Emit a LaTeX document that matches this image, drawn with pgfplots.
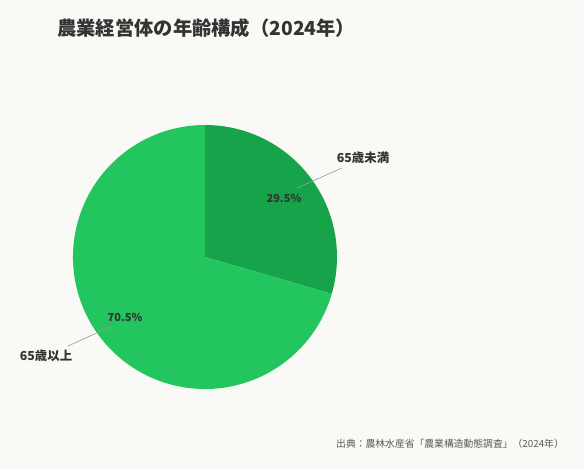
\documentclass[border=0pt]{standalone}
\usepackage{pgfplots}
\pgfplotsset{compat=1.18}
\usepackage{fontspec}
\setmainfont{Noto Sans CJK JP}
\definecolor{bg}{HTML}{F9F9F5}
\definecolor{darkgreen}{HTML}{16A34A}
\definecolor{lightgreen}{HTML}{22C55E}
\definecolor{txt}{HTML}{333333}
\definecolor{src}{HTML}{5A5A5A}
\definecolor{leader}{HTML}{999999}

% shares (percent), clockwise from 12 o'clock
\def\valA{29.5}% 65歳未満
\def\valB{70.5}% 65歳以上
\def\R{132}

\begin{document}
\begin{tikzpicture}
\begin{axis}[
    x=1pt, y=1pt,
    xmin=-205, xmax=379,
    ymin=-212, ymax=257,
    hide axis,
    clip=false,
]
% background
\fill[bg] (axis cs:-205,-212) rectangle (axis cs:379,257);

% slices
\pgfmathsetmacro{\aA}{90}
\pgfmathsetmacro{\aB}{90-\valA*3.6}
\pgfmathsetmacro{\aC}{\aB-\valB*3.6}
\fill[darkgreen] (axis cs:0,0) -- (axis cs:{\R*cos(\aA)},{\R*sin(\aA)})
    arc[start angle=\aA, end angle=\aB, radius=\R pt] -- cycle;
\fill[lightgreen] (axis cs:0,0) -- (axis cs:{\R*cos(\aB)},{\R*sin(\aB)})
    arc[start angle=\aB, end angle=\aC, radius=\R pt] -- cycle;

% leader lines
\draw[leader, line width=0.6pt] (axis cs:92,69) -- (axis cs:137,89);
\draw[leader, line width=0.6pt] (axis cs:-93,-69) -- (axis cs:-137,-89);

% labels
\node[txt, font=\bfseries\fontsize{11}{13}\selectfont] at (axis cs:79,59) {\valA\%};
\node[txt, font=\bfseries\fontsize{11}{13}\selectfont] at (axis cs:-80,-60) {\valB\%};
\node[txt, font=\bfseries\fontsize{12.4}{14}\selectfont] at (axis cs:158,99) {65歳未満};
\node[txt, font=\bfseries\fontsize{12.4}{14}\selectfont] at (axis cs:-159,-99) {65歳以上};

% title and source
\node[txt, anchor=west, inner sep=0pt, font=\bfseries\fontsize{19.3}{22}\selectfont]
    at (axis cs:-148,229) {農業経営体の年齢構成（2024年）};
\node[src, anchor=east, inner sep=0pt, font=\fontsize{9.8}{12}\selectfont]
    at (axis cs:359,-187) {出典：農林水産省「農業構造動態調査」（2024年）};
\end{axis}
\end{tikzpicture}
\end{document}
